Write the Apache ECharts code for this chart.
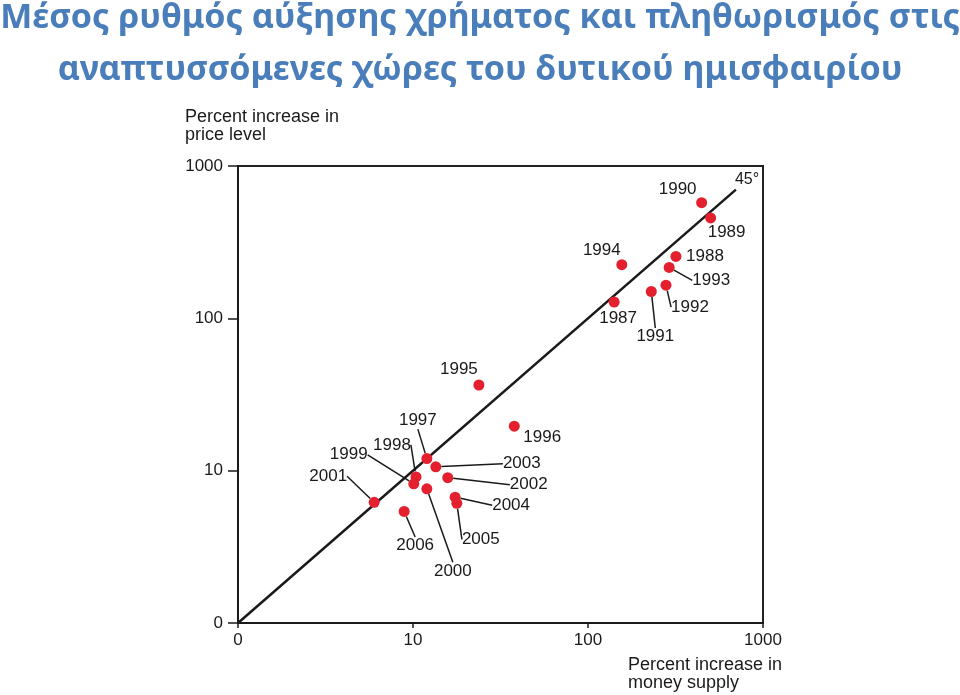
<!DOCTYPE html>
<html><head><meta charset="utf-8">
<script src="https://cdn.jsdelivr.net/npm/echarts@6/dist/echarts.min.js"></script>
<style>html,body{margin:0;padding:0;background:#fff}#c{width:960px;height:695px}</style>
</head><body><div id="c"></div>
<script>
// ---- data ----
const years = ['1987','1988','1989','1990','1991','1992','1993','1994','1995','1996','1997','1998','1999','2000','2001','2002','2003','2004','2005','2006'];
const moneyGrowth = [141, 318, 502, 446, 230, 279, 291, 156, 23.8, 37.9, 12.0, 10.4, 10.1, 12.0, 6.0, 15.8, 13.5, 17.4, 17.8, 8.9];
const inflation   = [128, 255, 456, 574, 150, 165, 216, 225, 36.5, 19.6, 12.0, 9.1, 8.2, 7.6, 6.2, 9.0, 10.6, 6.7, 6.1, 5.4];
const diagonal = [1, 700];
const axisTicks = [1, 10, 100, 1000];
const tickLabels = ['0', '10', '100', '1000'];
const titleLines = ['Μέσος ρυθμός αύξησης χρήματος και πληθωρισμός στις', 'αναπτυσσόμενες χώρες του δυτικού ημισφαιρίου'];
const yAxisTitle = 'Percent increase in\nprice level';
const xAxisTitle = 'Percent increase in\nmoney supply';

// ---- label placement (style only): offset of label centre from point centre, leader line ----
const labelPlace = {
  '1987':[4,16,false], '1988':[29,0,false], '1989':[16,14,false], '1990':[-24,-13,false],
  '1991':[4,45,true], '1992':[24,22,true], '1993':[42,13,true], '1994':[-20,-14,false],
  '1995':[-20,-16,false], '1996':[28,11,false], '1997':[-9,-38,true], '1998':[-24,-32,true],
  '1999':[-65,-29,true], '2000':[26,82,true], '2001':[-46,-26,true], '2002':[81,7,true],
  '2003':[86,-3,true], '2004':[56,8,true], '2005':[24,36,true], '2006':[11,34,true]
};

const FONT = 'Liberation Sans, Arial, sans-serif';
const INK = '#1a1a1a';
const fmt = v => { const i = axisTicks.indexOf(v); return i >= 0 ? tickLabels[i] : ''; };

const points = years.map((y, i) => ({
  name: y,
  value: [moneyGrowth[i], inflation[i]],
  labelLine: { show: labelPlace[y][2] }
}));

const chart = echarts.init(document.getElementById('c'));
chart.setOption({
  animation: false,
  backgroundColor: '#fff',
  grid: { left: 238, right: 197, top: 166, bottom: 72, show: true, borderColor: '#222', borderWidth: 2 },
  xAxis: {
    type: 'log', logBase: 10, min: 1, max: 1000,
    axisLine: { show: true, lineStyle: { color: INK, width: 2 } },
    axisTick: { show: true, length: 5, lineStyle: { color: INK, width: 1.5 } },
    axisLabel: { formatter: fmt, color: INK, fontFamily: FONT, fontSize: 17, margin: 9 },
    splitLine: { show: false }
  },
  yAxis: {
    type: 'log', logBase: 10, min: 1, max: 1000,
    axisLine: { show: true, lineStyle: { color: INK, width: 2 } },
    axisTick: { show: true, length: 10, lineStyle: { color: INK, width: 1.5 } },
    axisLabel: { formatter: fmt, color: INK, fontFamily: FONT, fontSize: 17, margin: 15 },
    splitLine: { show: false }
  },
  graphic: [
    { type: 'text', x: 480, y: 18, style: { text: titleLines[0], align: 'center', verticalAlign: 'middle', fontFamily: 'Noto Sans', fontWeight: 'bold', fontSize: 34, fill: '#4a7ebb' } },
    { type: 'text', x: 480, y: 70, style: { text: titleLines[1], align: 'center', verticalAlign: 'middle', fontFamily: 'Noto Sans', fontWeight: 'bold', fontSize: 34, fill: '#4a7ebb' } },
    { type: 'text', left: 185, top: 108, style: { text: yAxisTitle, fontFamily: FONT, fontSize: 18, lineHeight: 18, fill: INK } },
    { type: 'text', left: 628, top: 656, style: { text: xAxisTitle, fontFamily: FONT, fontSize: 18, lineHeight: 18, fill: INK } }
  ],
  series: [
    {
      type: 'line',
      data: diagonal.map(v => [v, v]),
      symbol: 'none',
      lineStyle: { color: INK, width: 2.5 },
      endLabel: { show: true, formatter: '45°', fontFamily: FONT, fontSize: 16, color: INK, offset: [-9, -10] },
      z: 2
    },
    {
      type: 'scatter',
      data: points,
      symbolSize: 11,
      itemStyle: { color: '#e4202e', opacity: 1 },
      label: { show: true, formatter: p => p.name, fontFamily: FONT, fontSize: 17, color: INK },
      labelLine: { show: true, lineStyle: { color: INK, width: 1.5 } },
      labelLayout: function (p) {
        const o = labelPlace[years[p.dataIndex]];
        return {
          x: p.rect.x + p.rect.width / 2 + o[0],
          y: p.rect.y + p.rect.height / 2 + o[1],
          align: 'center', verticalAlign: 'middle'
        };
      },
      z: 3
    }
  ]
});
</script>
</body></html>
